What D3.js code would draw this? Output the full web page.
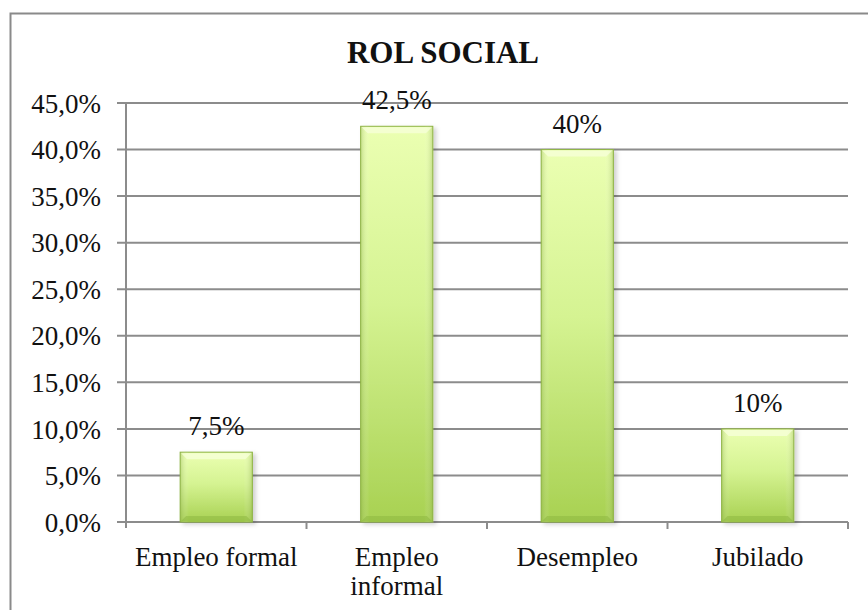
<!DOCTYPE html>
<html>
<head>
<meta charset="utf-8">
<script src="https://cdn.jsdelivr.net/npm/d3@7"></script>
<style>
  body { margin: 0; background: #fff; }
  text { font-family: "Liberation Serif", "DejaVu Serif", serif; fill: #111; }
</style>
</head>
<body>
<script>
// chart data
var categories = ["Empleo formal", "Empleo informal", "Desempleo", "Jubilado"];
var catLines = [["Empleo formal"], ["Empleo", "informal"], ["Desempleo"], ["Jubilado"]];
var values = [7.5, 42.5, 40, 10];
var valueLabels = ["7,5%", "42,5%", "40%", "10%"];
var yTicks = [0, 5, 10, 15, 20, 25, 30, 35, 40, 45];

var W = 868, H = 610;
var margin = {top: 103, right: 20, bottom: 88, left: 126},
    width = 848 - margin.left,
    height = 522 - margin.top;

var svg = d3.select("body").append("svg")
    .attr("width", W)
    .attr("height", H);

var defs = svg.append("defs");
var grad = defs.append("linearGradient")
    .attr("id", "barGrad").attr("x1", 0).attr("y1", 0).attr("x2", 0).attr("y2", 1);
grad.append("stop").attr("offset", "0%").attr("stop-color", "#ebffb2");
grad.append("stop").attr("offset", "45%").attr("stop-color", "#d5f392");
grad.append("stop").attr("offset", "100%").attr("stop-color", "#a8d152");

var side = defs.append("linearGradient")
    .attr("id", "sideGrad").attr("x1", 0).attr("y1", 0).attr("x2", 1).attr("y2", 0);
side.append("stop").attr("offset", "0%").attr("stop-color", "#7da23a").attr("stop-opacity", 0.35);
side.append("stop").attr("offset", "12%").attr("stop-color", "#ffffff").attr("stop-opacity", 0);
side.append("stop").attr("offset", "88%").attr("stop-color", "#ffffff").attr("stop-opacity", 0);
side.append("stop").attr("offset", "100%").attr("stop-color", "#7da23a").attr("stop-opacity", 0.35);

var shadow = defs.append("filter").attr("id", "shadow")
    .attr("x", "-20%").attr("y", "-10%").attr("width", "150%").attr("height", "130%");
shadow.append("feDropShadow").attr("dx", 3).attr("dy", 2).attr("stdDeviation", 2)
    .attr("flood-color", "#000").attr("flood-opacity", 0.18);

// outer border (chart area runs past the picture on the right and bottom)
svg.append("rect")
    .attr("x", 10.5).attr("y", 13.5)
    .attr("width", 880).attr("height", 620)
    .attr("fill", "none")
    .attr("stroke", "#8a8a8a")
    .attr("stroke-width", 2);

svg.append("text")
    .attr("x", 443).attr("y", 63)
    .attr("text-anchor", "middle")
    .style("font-family", "'Liberation Serif', serif")
    .style("font-weight", "bold")
    .style("font-size", "31px")
    .text("ROL SOCIAL");

var g = svg.append("g")
    .attr("transform", "translate(" + margin.left + "," + margin.top + ")");

var xScale = d3.scaleBand().domain(categories).range([0, width]).padding(0),
    yScale = d3.scaleLinear().domain([0, 45]).range([height, 0]);

// gridlines
g.selectAll(".grid")
    .data(yTicks)
  .enter().append("line")
    .attr("class", "grid")
    .attr("x1", -9).attr("x2", width)
    .attr("y1", function(d) { return yScale(d); })
    .attr("y2", function(d) { return yScale(d); })
    .attr("stroke", "#8c8c8c")
    .attr("stroke-width", 2);

// y axis
var yAxis = d3.axisLeft(yScale).tickValues(yTicks).tickSize(0).tickPadding(25)
    .tickFormat(function(d) { return d.toFixed(1).replace(".", ",") + "%"; });
var ya = g.append("g").attr("class", "axis axis--y").call(yAxis);
ya.select(".domain").remove();
ya.selectAll("text")
    .style("font-size", "27px")
    .attr("dy", "0.34em");
g.append("line")
    .attr("x1", 0).attr("x2", 0)
    .attr("y1", 0).attr("y2", height + 6)
    .attr("stroke", "#8c8c8c").attr("stroke-width", 2);

// x axis ticks at band boundaries
var bounds = categories.map(function(c) { return xScale(c); }).concat([width]);
g.selectAll(".xtick")
    .data(bounds.slice(1))
  .enter().append("line")
    .attr("x1", function(d) { return d; }).attr("x2", function(d) { return d; })
    .attr("y1", height).attr("y2", height + 7)
    .attr("stroke", "#8c8c8c").attr("stroke-width", 2);

// bars
var bw = xScale.bandwidth() * 0.4;
var bars = g.selectAll(".bar")
    .data(values)
  .enter().append("g")
    .attr("class", "bar");

bars.append("rect")
    .attr("x", function(d, i) { return xScale(categories[i]) + (xScale.bandwidth() - bw) / 2; })
    .attr("y", function(d) { return yScale(d); })
    .attr("width", bw)
    .attr("height", function(d) { return height - yScale(d); })
    .attr("fill", "url(#barGrad)")
    .attr("stroke", "#8fb443")
    .attr("stroke-width", 1)
    .attr("filter", "url(#shadow)");

bars.append("rect")
    .attr("x", function(d, i) { return xScale(categories[i]) + (xScale.bandwidth() - bw) / 2; })
    .attr("y", function(d) { return yScale(d); })
    .attr("width", bw)
    .attr("height", function(d) { return height - yScale(d); })
    .attr("fill", "url(#sideGrad)");

// top bevel highlight
bars.append("path")
    .attr("d", function(d, i) {
        var x0 = xScale(categories[i]) + (xScale.bandwidth() - bw) / 2,
            y0 = yScale(d), b = 7;
        return "M" + (x0 + 1) + "," + (y0 + 1) + "L" + (x0 + bw - 1) + "," + (y0 + 1) +
               "L" + (x0 + bw - b) + "," + (y0 + b) + "L" + (x0 + b) + "," + (y0 + b) + "Z";
    })
    .attr("fill", "#f6ffd8")
    .attr("opacity", 0.8);

// bottom bevel
bars.append("path")
    .attr("d", function(d, i) {
        var x0 = xScale(categories[i]) + (xScale.bandwidth() - bw) / 2,
            y1 = height, b = 6;
        return "M" + (x0 + 1) + "," + (y1 - 1) + "L" + (x0 + bw - 1) + "," + (y1 - 1) +
               "L" + (x0 + bw - b) + "," + (y1 - b) + "L" + (x0 + b) + "," + (y1 - b) + "Z";
    })
    .attr("fill", "#8cb540")
    .attr("opacity", 0.5);

// value labels
g.selectAll(".vlabel")
    .data(values)
  .enter().append("text")
    .attr("class", "vlabel")
    .attr("x", function(d, i) { return xScale(categories[i]) + xScale.bandwidth() / 2; })
    .attr("y", function(d) { return yScale(d) - 17; })
    .attr("text-anchor", "middle")
    .style("font-size", "27px")
    .text(function(d, i) { return valueLabels[i]; });

// category labels
var cl = g.selectAll(".clabel")
    .data(catLines)
  .enter().append("text")
    .attr("class", "clabel")
    .attr("text-anchor", "middle")
    .attr("x", function(d, i) { return xScale(categories[i]) + xScale.bandwidth() / 2; })
    .attr("y", height + 44)
    .style("font-size", "27px");
cl.selectAll("tspan")
    .data(function(d) { return d; })
  .enter().append("tspan")
    .attr("x", function() { return d3.select(this.parentNode).attr("x"); })
    .attr("dy", function(d, i) { return i === 0 ? 0 : 29; })
    .text(function(d) { return d; });
</script>
</body>
</html>
